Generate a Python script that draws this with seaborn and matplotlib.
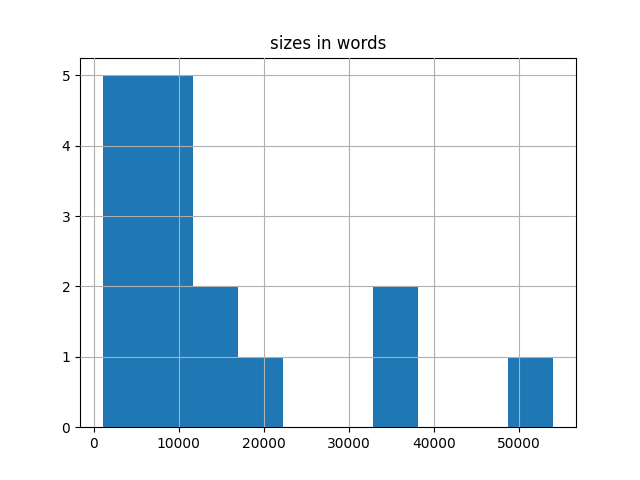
"""Histogramme des tailles de textes (en mots)."""

import matplotlib
matplotlib.use("Agg")
import matplotlib.pyplot as plt
import seaborn as sns
import pandas as pd

# Tailles estimees a partir de l'image (16 textes)
sizes_in_words = [
    1060, 2500, 3800, 4900, 6000,
    6900, 7800, 8700, 9800, 11000,
    12500, 15500,
    19000,
    34000, 36500,
    54060,
]

TITLE = "sizes in words"


def main():
    df = pd.DataFrame({"sizes in words": sizes_in_words})

    fig, ax = plt.subplots(figsize=(6.4, 4.8), dpi=100)
    sns.histplot(
        data=df,
        x="sizes in words",
        bins=10,
        color="#1f77b4",
        alpha=1,
        linewidth=0,
        ax=ax,
    )

    ax.grid(True)
    ax.set_axisbelow(False)
    ax.set_title(TITLE)
    ax.set_xlabel("")
    ax.set_ylabel("")

    fig.savefig("out.png", dpi=100)
    plt.close(fig)


if __name__ == "__main__":
    main()
